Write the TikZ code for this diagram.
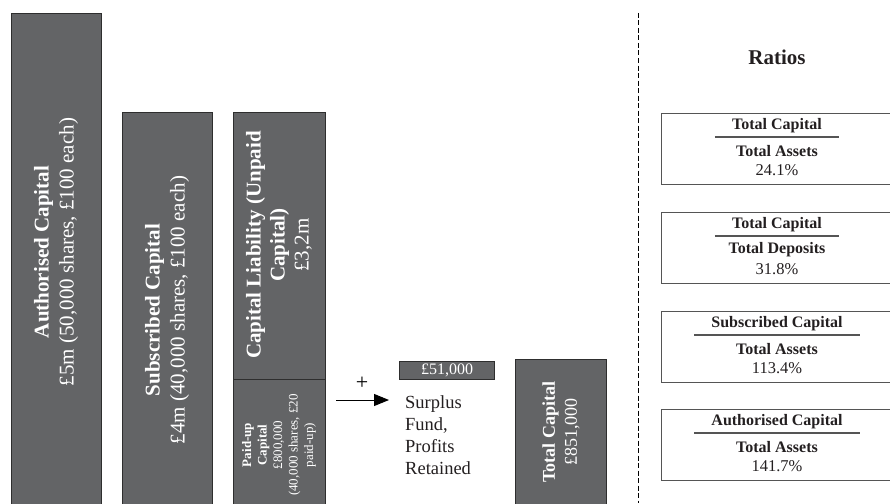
\documentclass[tikz,border=0pt]{standalone}
\usepackage{fontspec}
\setmainfont{Liberation Serif}
\usetikzlibrary{arrows.meta}
\definecolor{boxgray}{HTML}{636466}
\definecolor{boxline}{HTML}{2E2E2E}
\definecolor{inktext}{HTML}{231F20}
\definecolor{ratioline}{HTML}{555555}
\tikzset{
  capbox/.style={draw=boxline, line width=1.1pt, fill=boxgray, anchor=north west, inner sep=0pt},
  captext/.style={rotate=90, text=white, align=center, font=\fontsize{21}{25}\selectfont},
  ratiobox/.style={draw=ratioline, line width=1.4pt, anchor=north west, minimum width=240, minimum height=71, inner sep=0pt},
  ratiotext/.style={text=inktext, inner sep=0pt, font=\fontsize{16.5}{18}\selectfont},
  ratiobold/.style={text=inktext, inner ysep=0pt, font=\fontsize{16}{18}\selectfont\bfseries},
}
\begin{document}
\begin{tikzpicture}[x=1pt, y=-1pt]
  \useasboundingbox (0,0) rectangle (890,503);
  \clip (0,0) rectangle (890,503);

  % capital columns
  \node[capbox, minimum width=90, minimum height=510] (auth) at (11,13) {};
  \node[captext] (authlab) at (56,252) {\textbf{Authorised Capital}\\£5m (50,000 shares, £100 each)};

  \node[capbox, minimum width=90, minimum height=410] (subs) at (122,112) {};
  \node[captext] (subslab) at (167,310) {\textbf{Subscribed Capital}\\£4m (40,000 shares, £100 each)};

  \node[capbox, minimum width=92, minimum height=267] (unpaid) at (233,112) {};
  \node[captext, font=\fontsize{21}{24}\selectfont] (unpaidlab) at (279,245) {\textbf{Capital Liability (Unpaid}\\\textbf{Capital)}\\£3,2m};

  \node[capbox, minimum width=92, minimum height=140] (paid) at (233,379) {};
  \node[captext, font=\fontsize{13}{15.5}\selectfont] (paidlab) at (279,445) {\textbf{Paid-up}\\\textbf{Capital}\\£800,000\\(40,000 shares, £20\\paid-up)};

  % surplus added
  \coordinate (arrowS) at (336,400);
  \coordinate (arrowE) at (389,400);
  \draw[line width=1pt, -{Triangle[length=15pt,width=12pt]}] (arrowS) -- (arrowE);
  \node[font=\fontsize{22}{24}\selectfont] (plus) at (362,383) {+};

  \node[capbox, minimum width=95, minimum height=18, text=white, font=\fontsize{16}{18}\selectfont] (fund) at (399,361) {£51,000};
  \node[anchor=north west, align=left, inner sep=0pt, text=inktext, font=\fontsize{18.5}{22}\selectfont] (surplus) at (405,395) {Surplus\\Fund,\\Profits\\Retained};

  \node[capbox, minimum width=91, minimum height=160] (total) at (515,359) {};
  \node[captext, font=\fontsize{18}{22}\selectfont] (totallab) at (561,432) {\textbf{Total Capital}\\£851,000};

  % Ligne de séparation
  \coordinate (divT) at (638,13);
  \coordinate (divB) at (638,503);
  \draw[line width=0.9pt, dash pattern=on 5pt off 2.5pt] (divT) -- (divB);

  % ratios
  \node[text=inktext, font=\fontsize{21}{24}\selectfont\bfseries] (title) at (777,57) {Ratios};

  \foreach \t/\num/\den/\val [count=\i] in {113/Total Capital/Total Assets/24.1\%,
      212/Total Capital/Total Deposits/31.8\%,
      311/Subscribed Capital/Total Assets/113.4\%,
      409/Authorised Capital/Total Assets/141.7\%} {
    \node[ratiobox] (r\i) at (661,\t) {};
    \node[ratiobold, inner xsep=17pt] (r\i n) at (777,\t+13) {\num};
    \draw[ratioline, line width=1.3pt] ([yshift=-11pt]r\i n.west) -- ([yshift=-11pt]r\i n.east);
    \node[ratiobold, inner xsep=0pt] (r\i d) at (777,\t+38) {\den};
    \node[ratiotext] (r\i v) at (777,\t+57) {\val};
  }
\end{tikzpicture}
\end{document}
